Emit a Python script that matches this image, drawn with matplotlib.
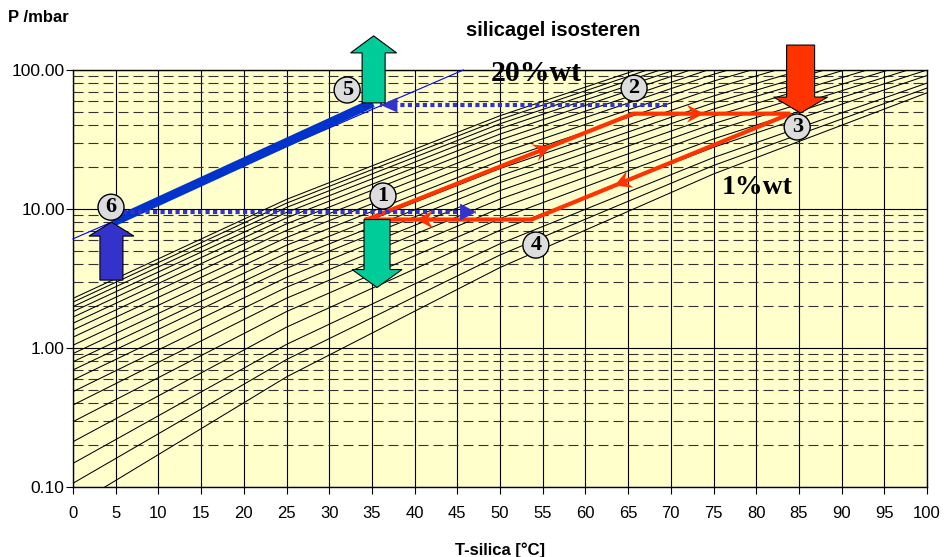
import numpy as np
import matplotlib
matplotlib.use('Agg')
import matplotlib.pyplot as plt
from matplotlib.patches import Polygon, Circle
from matplotlib.transforms import IdentityTransform
from matplotlib.ticker import LogLocator, NullFormatter

# isosteres 1..20 %wt, log10(P/mbar) read at these temperatures
T_grid = [0, 25, 50, 75, 100]
wt_pct = list(range(1, 21))
iso_log10_p = [
    [-1.139, -0.208, 0.579, 1.252, 1.836],
    [-0.973, -0.083, 0.669, 1.313, 1.870],
    [-0.830, 0.026, 0.750, 1.370, 1.906],
    [-0.674, 0.150, 0.847, 1.444, 1.960],
    [-0.530, 0.262, 0.931, 1.504, 2.000],
    [-0.410, 0.358, 1.006, 1.562, 2.043],
    [-0.314, 0.437, 1.071, 1.614, 2.085],
    [-0.230, 0.508, 1.132, 1.667, 2.130],
    [-0.158, 0.573, 1.190, 1.719, 2.177],
    [-0.099, 0.626, 1.239, 1.764, 2.218],
    [-0.040, 0.682, 1.291, 1.813, 2.266],
    [0.020, 0.739, 1.347, 1.867, 2.318],
    [0.078, 0.795, 1.401, 1.920, 2.370],
    [0.130, 0.846, 1.451, 1.969, 2.417],
    [0.178, 0.893, 1.497, 2.014, 2.462],
    [0.222, 0.936, 1.539, 2.056, 2.503],
    [0.262, 0.975, 1.578, 2.094, 2.541],
    [0.298, 1.011, 1.613, 2.129, 2.575],
    [0.330, 1.042, 1.644, 2.160, 2.606],
    [0.357, 1.069, 1.671, 2.186, 2.632],
]

# water saturation line (thin) and evaporator/condenser path 6 -> 5 (thick)
sat_T = [0.0, 45.7]
sat_P = [6.1, 100.0]
evap_T = [4.7, 35.1]
evap_P = [8.05, 58.0]

# adsorption cycle 1 -> 2 -> 3 -> 4 -> 1
cycle_T = [34.4, 65.6, 84.0, 53.7, 34.4]
cycle_P = [8.4, 48.5, 48.5, 8.4, 8.4]

# heat recovery (dotted) lines
dot1_T = [5.9, 47.2]
dot1_P = [9.5, 9.5]
dot2_T = [69.6, 36.0]
dot2_P = [56.0, 56.0]

# numbered points
pt_labels = ['1', '2', '3', '4', '5', '6']
pt_T = [36.3, 65.7, 84.8, 54.2, 32.1, 4.45]
pt_P = [12.4, 74.0, 38.9, 5.5, 71.8, 10.3]

x_ticks = list(range(0, 101, 5))
y_ticks = [0.1, 1, 10, 100]
y_ticklabels = ['0.10', '1.00', '10.00', '100.00']

RED = '#FF3300'
GREEN = '#00CC99'
BLUE_ARROW = '#3333CC'
SANS = 'Liberation Sans'
SERIF = 'Liberation Serif'

fig = plt.figure(figsize=(9.44, 5.57), dpi=100)
ax = fig.add_axes([73 / 944, 70 / 557, 854 / 944, 417 / 557])
ax.set_facecolor('#FFFFCC')
ax.set_yscale('log')
ax.set_xlim(0, 100)
ax.set_ylim(0.1, 100)
ax.set_axisbelow(True)

ax.set_xticks(x_ticks)
ax.set_xticklabels([str(t) for t in x_ticks], fontsize=12, family=SANS)
ax.set_yticks(y_ticks)
ax.set_yticklabels(y_ticklabels, fontsize=12.5, family=SANS)
ax.yaxis.set_minor_locator(LogLocator(base=10, subs=np.arange(2, 10)))
ax.yaxis.set_minor_formatter(NullFormatter())
ax.tick_params(axis='x', length=5, pad=9, direction='out')
ax.tick_params(axis='y', which='major', length=5, pad=1)
ax.tick_params(axis='y', which='minor', length=0)

ax.grid(axis='x', which='major', color='black', lw=0.8)
ax.grid(axis='y', which='major', color='black', lw=0.8)
ax.grid(axis='y', which='minor', color='#333333', lw=0.8, linestyle=(0, (9, 4.5)))
for s in ax.spines.values():
    s.set_color('black')
    s.set_linewidth(1)

for row in iso_log10_p:
    ax.plot(T_grid, 10 ** np.array(row), color='black', lw=0.75, zorder=2)

ax.plot(sat_T, sat_P, color='#0000FF', lw=0.8, zorder=3, clip_on=False)
ax.plot(evap_T, evap_P, color='#0033CC', lw=6.5, solid_capstyle='butt', zorder=4)
ax.plot(cycle_T, cycle_P, color=RED, lw=3, solid_joinstyle='miter', zorder=4)

dot_style = dict(color=BLUE_ARROW, lw=3, linestyle=(0, (1, 0.8)),
                 dash_capstyle='butt', zorder=5)
ax.plot(dot1_T, dot1_P, **dot_style)
ax.plot(dot2_T, dot2_P, **dot_style)


def px_poly(verts, color, zorder, edge='none', lw=0.8):
    ax.add_patch(Polygon(verts, closed=True, transform=IdentityTransform(),
                         facecolor=color, edgecolor=edge, lw=lw,
                         zorder=zorder, clip_on=False))


def line_head(p0, p1, frac, length, hw, back, color, zorder=6):
    a = ax.transData.transform(p0)
    b = ax.transData.transform(p1)
    u = (b - a) / np.hypot(*(b - a))
    n = np.array([-u[1], u[0]])
    tip = a + frac * (b - a)
    verts = [tip, tip - u * length + n * hw, tip - u * back, tip - u * length - n * hw]
    px_poly(verts, color, zorder)


def block_arrow(t, p, d, shaft, head, shaft_hw, head_hw, color, at_tip=False):
    x0, y0 = ax.transData.transform((t, p))
    prof = [(-shaft_hw, 0), (-shaft_hw, shaft), (-head_hw, shaft), (0, shaft + head),
            (head_hw, shaft), (shaft_hw, shaft), (shaft_hw, 0)]
    off = -(shaft + head) if at_tip else 0
    verts = [(x0 + dx, y0 + d * (dy + off)) for dx, dy in prof]
    px_poly(verts, color, 8, edge='black')


# arrowheads on the cycle
fracs = [0.69, 0.45, 0.68, 0.70]
for i, f in enumerate(fracs):
    line_head((cycle_T[i], cycle_P[i]), (cycle_T[i + 1], cycle_P[i + 1]), f, 17, 9, 11, RED)

# arrowheads on dotted lines
line_head((dot1_T[0], dot1_P[0]), (dot1_T[1], dot1_P[1]), 1.0, 16, 8.5, 16, BLUE_ARROW)
line_head((dot2_T[0], dot2_P[0]), (dot2_T[1], dot2_P[1]), 1.0, 17, 7.5, 17, BLUE_ARROW)

# block arrows
block_arrow(35.2, 58.0, 1, 50, 17, 11.5, 23, GREEN)
block_arrow(35.6, 8.4, -1, 50, 18, 13, 25, GREEN)
block_arrow(4.5, 8.05, 1, 44, 14, 11.5, 22.5, BLUE_ARROW, at_tip=True)
block_arrow(85.2, 49.0, -1, 52, 16, 14, 27, RED, at_tip=True)

# numbered circles
for lab, t, p in zip(pt_labels, pt_T, pt_P):
    x0, y0 = ax.transData.transform((t, p))
    ax.add_patch(Circle((x0, y0), 13, transform=IdentityTransform(), facecolor='#DDDDDD',
                        edgecolor='black', lw=1, zorder=9, clip_on=False))
    ax.text(t, p, lab, ha='center', va='center', fontsize=16, family=SERIF,
            fontweight='bold', zorder=10)

ax.text(54.3, 95, '20%wt', ha='center', va='center', fontsize=21.5, family=SERIF,
        fontweight='bold', zorder=7)
ax.text(80.1, 14.2, '1%wt', ha='center', va='center', fontsize=20, family=SERIF,
        fontweight='bold', zorder=7)

ax.text(-65 / 854, 1 + 52 / 417, 'P /mbar', transform=ax.transAxes, ha='left', va='center',
        fontsize=12, family=SANS, fontweight='bold')
ax.text(480 / 854, 1 + 40 / 417, 'silicagel isosteren', transform=ax.transAxes,
        ha='center', va='center', fontsize=14.5, family=SANS, fontweight='bold')
ax.set_xlabel('T-silica [°C]', fontsize=12, family=SANS, fontweight='bold')
ax.xaxis.set_label_coords(427 / 854, -55 / 417)

fig.savefig('out.png', dpi=100)
